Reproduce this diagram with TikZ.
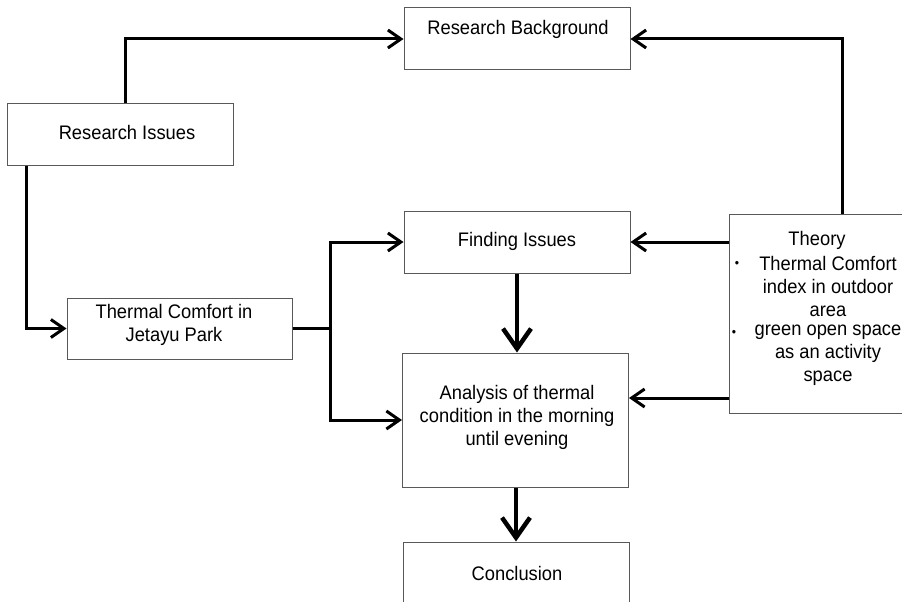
\documentclass[tikz,border=0pt]{standalone}
\usepackage{fontspec}
\setmainfont{Liberation Sans}[FakeStretch=0.935]
\usetikzlibrary{arrows.meta}
\begin{document}
\begin{tikzpicture}[x=1pt,y=-1pt,
 box/.style={draw=black!65,line width=1pt,inner sep=0pt},
 conn/.style={line width=3pt,-{Straight Barb[length=13pt,width=18pt]}},
 bigconn/.style={line width=4.5pt,-{Straight Barb[length=20pt,width=28pt]}},
 lbl/.style={font=\fontsize{19.6}{23}\selectfont,align=center,inner sep=0pt}]
\useasboundingbox (0,0) rectangle (902,602);
\clip (0,0) rectangle (902,602);
\fill[white] (0,0) rectangle (902,602);
% boxes
\node[box,minimum width=226pt,minimum height=62pt] (rb) at (517,39) {};
\node[box,minimum width=226pt,minimum height=62pt] (ri) at (120,134) {};
\node[box,minimum width=225pt,minimum height=61pt] (tc) at (179.5,328.5) {};
\node[box,minimum width=226pt,minimum height=62pt] (fi) at (517,242) {};
\node[box,minimum width=226pt,minimum height=134pt] (an) at (515.5,420) {};
\node[box,minimum width=226pt,minimum height=62pt] (co) at (516,573) {};
\node[box,minimum width=175pt,minimum height=199pt] (th) at (816.5,313.5) {};
% texts
\node[lbl] (rbt) at (518,29) {Research Background};
\node[lbl] (rit) at (127,132) {Research Issues};
\node[lbl] (tct) at (174,325) {Thermal Comfort in\\Jetayu Park};
\node[lbl] (fit) at (517,241) {Finding Issues};
\node[lbl] (ant) at (517,417) {Analysis of thermal\\condition in the morning\\until evening};
\node[lbl] (cot) at (517,573) {Conclusion};
\node[lbl] (tht) at (817,240) {Theory};
\node[lbl] (th1) at (828,286) {Thermal Comfort\\index in outdoor\\area};
\node[lbl] (th2) at (828,355) {green open space\\as an activity\\space};
\node[lbl,font=\fontsize{13}{14}\selectfont] (b1) at (737,264) {•};
\node[lbl,font=\fontsize{13}{14}\selectfont] (b2) at (734,333) {•};
% connectors
\coordinate (jn) at (330,331);
\coordinate (a1) at ([yshift=22pt]an.east);
\draw[conn] ([xshift=5pt]ri.north) |- (rb.west);
\draw[conn] ([xshift=-94pt]ri.south) |- (tc.west);
\draw[conn] (tc.east) -- (tc.east -| jn) |- (fi.west);
\draw[conn] (tc.east -| jn) |- (an.west);
\draw[conn] ([xshift=25.5pt]th.north) |- (rb.east);
\draw[conn] (fi.east -| th.west) -- (fi.east);
\draw[conn] (a1 -| th.west) -- (a1);
\draw[bigconn] (fi.south) -- (fi.south |- an.north);
\draw[bigconn] (co.north |- an.south) -- (co.north);
\end{tikzpicture}
\end{document}
